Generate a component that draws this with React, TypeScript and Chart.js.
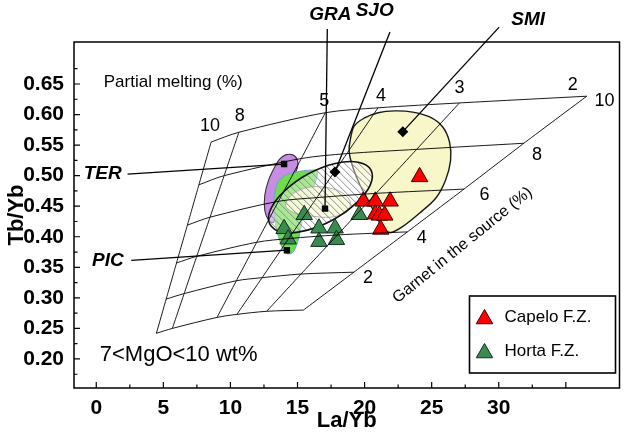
import React, { useEffect, useRef } from "react";
import { Chart, registerables } from "chart.js";

Chart.register(...registerables);

const FONT = "Arial, 'Liberation Sans', Helvetica, sans-serif";

// ---------- axis ticks ----------
const xMajorTicks = [0, 5, 10, 15, 20, 25, 30, 35];
const xTickLabels = ["0", "5", "10", "15", "20", "25", "30", ""];
const xMinorTicks = [2.5, 7.5, 12.5, 17.5, 22.5, 27.5, 32.5];
const yMajorTicks = [0.2, 0.25, 0.3, 0.35, 0.4, 0.45, 0.5, 0.55, 0.6, 0.65];
const yTickLabels = ["0.20", "0.25", "0.30", "0.35", "0.40", "0.45", "0.50", "0.55", "0.60", "0.65"];
const yMinorTicks = [0.175, 0.225, 0.275, 0.325, 0.375, 0.425, 0.475, 0.525, 0.575, 0.625, 0.675];

// ---------- melting model mesh: each curve = one partial-melting %, nodes for garnet 0,2,4,6,8,10 % ----------
const melt10 = [[4.48, 0.242], [5.21, 0.298], [5.98, 0.357], [6.79, 0.419], [7.65, 0.485], [8.56, 0.555]];
const melt8 = [[5.67, 0.25], [6.55, 0.307], [7.49, 0.368], [8.48, 0.432], [9.53, 0.5], [10.63, 0.571]];
const melt5 = [[9.0, 0.268], [10.44, 0.328], [11.96, 0.391], [13.58, 0.458], [15.28, 0.528], [17.07, 0.603]];
const melt4 = [[10.48, 0.273], [12.36, 0.333], [14.34, 0.397], [16.44, 0.464], [18.67, 0.536], [21.0, 0.611]];
const melt3 = [[12.7, 0.278], [15.26, 0.339], [17.98, 0.403], [20.85, 0.471], [23.88, 0.543], [27.07, 0.619]];
const melt2 = [[15.44, 0.28], [19.2, 0.342], [23.19, 0.408], [27.41, 0.478], [31.87, 0.553], [36.56, 0.63]];
const meltCurves = [melt10, melt8, melt5, melt4, melt3, melt2];
const meltLabels = ["10", "8", "5", "4", "3", "2"];
const garnetLabels = ["10", "8", "6", "4", "2"];

// ---------- samples ----------
const capeloLaYb = [24.1, 19.9, 20.8, 21.9, 20.8, 21.1, 21.5, 21.2];
const capeloTbYb = [0.498, 0.458, 0.458, 0.458, 0.437, 0.435, 0.435, 0.412];
const hortaLaYb = [15.5, 14.0, 14.3, 16.6, 17.8, 16.6, 17.9, 19.6];
const hortaTbYb = [0.436, 0.413, 0.396, 0.414, 0.414, 0.392, 0.395, 0.436];

// ---------- end members ----------
const endMemberNames = ["TER", "PIC", "GRA", "SJO", "SMI"];
const endMemberLaYb = [14.0, 14.21, 17.05, 17.79, 22.85];
const endMemberTbYb = [0.519, 0.378, 0.446, 0.506, 0.572];
const leaderLaYb = [2.33, 2.61, 17.22, 21.89, 30.03];
const leaderTbYb = [0.5025, 0.3615, 0.74, 0.735, 0.743];

// ---------- fields ----------
const regionSMI = [[18.93, 0.558], [19.22, 0.581], [19.96, 0.594], [21.0, 0.603], [22.26, 0.606], [23.59, 0.604], [24.85, 0.596], [25.81, 0.58], [26.33, 0.555], [26.41, 0.525], [26.04, 0.493], [25.3, 0.463], [24.11, 0.439], [22.85, 0.417], [21.96, 0.407], [21.37, 0.414], [20.85, 0.435], [20.26, 0.46], [19.67, 0.484], [19.15, 0.512], [18.85, 0.539]];
const regionTER = [[14.11, 0.534], [14.63, 0.534], [15.0, 0.525], [14.93, 0.509], [14.48, 0.493], [13.89, 0.468], [13.52, 0.443], [13.22, 0.424], [12.85, 0.427], [12.56, 0.443], [12.56, 0.468], [12.85, 0.493], [13.3, 0.514], [13.67, 0.527]];
const regionPIC = [[13.44, 0.484], [13.96, 0.499], [14.93, 0.506], [15.96, 0.509], [16.48, 0.506], [16.26, 0.484], [15.81, 0.46], [15.44, 0.435], [15.22, 0.411], [14.93, 0.386], [14.56, 0.373], [14.04, 0.375], [13.67, 0.394], [13.37, 0.419], [13.22, 0.452]];
const regionGRA = [[14.11, 0.452], [14.7, 0.471], [15.81, 0.481], [17.07, 0.481], [18.26, 0.473], [18.93, 0.457], [18.63, 0.44], [17.44, 0.432], [15.96, 0.434], [14.7, 0.44]];
const regionSJO = [[20.48, 0.509], [20.41, 0.484], [19.37, 0.455], [17.59, 0.427], [15.59, 0.41], [13.89, 0.407], [12.93, 0.421], [13.0, 0.445], [14.04, 0.475], [15.81, 0.503], [17.81, 0.52], [19.52, 0.522]];

// ---------- text anchors (data coordinates) ----------
const meltLabelPos = [[8.48, 0.581], [10.7, 0.5975], [17.0, 0.622], [21.22, 0.63], [27.07, 0.6434], [35.52, 0.6484]];
const garnetLabelPos = [[37.89, 0.622], [32.85, 0.5336], [28.93, 0.468], [24.26, 0.3975], [20.26, 0.332]];
const endMemberLabelPos = [[1.89, 0.5025], [2.04, 0.36], [17.45, 0.763], [20.75, 0.769], [32.19, 0.755]];
const endMemberLabelAlign = ["right", "right", "center", "center", "center"];

function smoothClosedPath(ctx: CanvasRenderingContext2D, pts: number[][]) {
  const n = pts.length;
  ctx.beginPath();
  ctx.moveTo(pts[0][0], pts[0][1]);
  for (let i = 0; i < n; i++) {
    const p0 = pts[(i - 1 + n) % n], p1 = pts[i], p2 = pts[(i + 1) % n], p3 = pts[(i + 2) % n];
    ctx.bezierCurveTo(
      p1[0] + (p2[0] - p0[0]) / 6, p1[1] + (p2[1] - p0[1]) / 6,
      p2[0] - (p3[0] - p1[0]) / 6, p2[1] - (p3[1] - p1[1]) / 6,
      p2[0], p2[1]
    );
  }
  ctx.closePath();
}

function toPx(chart: any, p: number[]) {
  return [chart.scales.x.getPixelForValue(p[0]), chart.scales.y.getPixelForValue(p[1])];
}

const regionsPlugin = {
  id: "regions",
  beforeDatasetsDraw(chart: any) {
    const ctx = chart.ctx as CanvasRenderingContext2D;
    const fillRegion = (data: number[][], fill: string, stroke: string, lw: number) => {
      const pts = data.map((p) => toPx(chart, p));
      ctx.save();
      smoothClosedPath(ctx, pts);
      ctx.fillStyle = fill;
      ctx.fill();
      if (lw > 0) {
        ctx.strokeStyle = stroke;
        ctx.lineWidth = lw;
        ctx.stroke();
      }
      ctx.restore();
      return pts;
    };
    fillRegion(regionSMI, "#f7f7c9", "#1a1a1a", 1.4);
    fillRegion(regionTER, "#c78de2", "#3a2a40", 1.1);
    fillRegion(regionPIC, "#6edc4c", "#6f9fd6", 1);
    fillRegion(regionGRA, "rgba(244,246,196,0.9)", "#777", 1);
    // hatched SJO field
    const pts = regionSJO.map((p) => toPx(chart, p));
    ctx.save();
    smoothClosedPath(ctx, pts);
    ctx.fillStyle = "rgba(255,255,255,0.4)";
    ctx.fill();
    ctx.clip();
    const xs = pts.map((p) => p[0]);
    const ys = pts.map((p) => p[1]);
    const minX = Math.min(...xs) - 5, maxX = Math.max(...xs) + 5;
    const minY = Math.min(...ys) - 5, maxY = Math.max(...ys) + 5;
    const h = maxY - minY;
    ctx.beginPath();
    for (let k = minX - h; k < maxX; k += 7) {
      ctx.moveTo(k, minY);
      ctx.lineTo(k + h, maxY);
    }
    ctx.strokeStyle = "#8c8c8c";
    ctx.lineWidth = 1;
    ctx.stroke();
    ctx.restore();
    ctx.save();
    smoothClosedPath(ctx, pts);
    ctx.strokeStyle = "#111";
    ctx.lineWidth = 1.6;
    ctx.stroke();
    ctx.restore();
  },
};

function drawTriangle(ctx: CanvasRenderingContext2D, x: number, y: number, r: number, fill: string, stroke: string) {
  ctx.beginPath();
  ctx.moveTo(x, y - r);
  ctx.lineTo(x + Math.sin((2 * Math.PI) / 3) * r, y + r / 2);
  ctx.lineTo(x - Math.sin((2 * Math.PI) / 3) * r, y + r / 2);
  ctx.closePath();
  ctx.fillStyle = fill;
  ctx.fill();
  ctx.strokeStyle = stroke;
  ctx.lineWidth = 1;
  ctx.stroke();
}

const overlayPlugin = {
  id: "overlay",
  afterDraw(chart: any) {
    const ctx = chart.ctx as CanvasRenderingContext2D;
    const ca = chart.chartArea;
    const xs = chart.scales.x, ys = chart.scales.y;
    ctx.save();
    // frame
    ctx.strokeStyle = "#000";
    ctx.lineWidth = 1.5;
    ctx.strokeRect(ca.left, ca.top, ca.right - ca.left, ca.bottom - ca.top);
    // inward ticks
    ctx.lineWidth = 1.2;
    ctx.beginPath();
    xMajorTicks.forEach((v) => { const p = xs.getPixelForValue(v); ctx.moveTo(p, ca.bottom); ctx.lineTo(p, ca.bottom - 6); });
    xMinorTicks.forEach((v) => { const p = xs.getPixelForValue(v); ctx.moveTo(p, ca.bottom); ctx.lineTo(p, ca.bottom - 3.5); });
    yMajorTicks.forEach((v) => { const p = ys.getPixelForValue(v); ctx.moveTo(ca.left, p); ctx.lineTo(ca.left + 6, p); });
    yMinorTicks.forEach((v) => { const p = ys.getPixelForValue(v); ctx.moveTo(ca.left, p); ctx.lineTo(ca.left + 3.5, p); });
    ctx.stroke();

    ctx.fillStyle = "#000";
    ctx.textBaseline = "middle";
    const text = (s: string, p: number[], font: string, align: CanvasTextAlign) => {
      const [px, py] = toPx(chart, p);
      ctx.font = font;
      ctx.textAlign = align;
      ctx.fillText(s, px, py);
    };
    text("Partial melting (%)", [0.56, 0.6533], `17px ${FONT}`, "left");
    meltLabels.forEach((s, i) => text(s, meltLabelPos[i], `18px ${FONT}`, "center"));
    garnetLabels.forEach((s, i) => text(s, garnetLabelPos[i], `18px ${FONT}`, "center"));
    endMemberNames.forEach((s, i) => text(s, endMemberLabelPos[i], `italic bold 19px ${FONT}`, endMemberLabelAlign[i] as CanvasTextAlign));
    text("7<MgO<10 wt%", [0.26, 0.2074], `22px ${FONT}`, "left");
    // rotated garnet title
    {
      const [px, py] = toPx(chart, [27.3, 0.386]);
      ctx.save();
      ctx.translate(px, py);
      ctx.rotate((-39 * Math.PI) / 180);
      ctx.font = `16px ${FONT}`;
      ctx.textAlign = "center";
      ctx.fillText("Garnet in the source (%)", 0, 0);
      ctx.restore();
    }
    // legend
    const lx = ca.right - 150, ly = ca.bottom - 92, lw = 146, lh = 77;
    ctx.strokeStyle = "#000";
    ctx.lineWidth = 1.6;
    ctx.strokeRect(lx, ly, lw, lh);
    drawTriangle(ctx, lx + 15, ly + 23, 9.5, "#ff0000", "#400000");
    drawTriangle(ctx, lx + 15, ly + 57, 9.5, "#3a8b50", "#14301c");
    ctx.fillStyle = "#000";
    ctx.font = `17px ${FONT}`;
    ctx.textAlign = "left";
    ctx.fillText("Capelo F.Z.", lx + 35, ly + 21);
    ctx.fillText("Horta F.Z.", lx + 35, ly + 55);
    ctx.restore();
  },
};

export default function App() {
  const ref = useRef<HTMLCanvasElement | null>(null);
  useEffect(() => {
    if (!ref.current) return;
    const meshColor = "#000";
    const datasets: any[] = [];
    meltCurves.forEach((c) =>
      datasets.push({
        data: c.map(([x, y]) => ({ x, y })),
        showLine: true, pointRadius: 0, borderColor: meshColor, borderWidth: 0.9, tension: 0.1, fill: false,
      })
    );
    for (let g = 0; g < 6; g++) {
      datasets.push({
        data: meltCurves.map((c) => ({ x: c[g][0], y: c[g][1] })),
        showLine: true, pointRadius: 0, borderColor: meshColor, borderWidth: 0.9, tension: 0.3, fill: false,
      });
    }
    endMemberNames.forEach((_, i) =>
      datasets.push({
        data: [{ x: leaderLaYb[i], y: leaderTbYb[i] }, { x: endMemberLaYb[i], y: endMemberTbYb[i] }],
        showLine: true, pointRadius: 0, borderColor: "#000", borderWidth: 1.3, clip: false, fill: false,
      })
    );
    datasets.push({
      data: endMemberLaYb.map((x, i) => ({ x, y: endMemberTbYb[i] })),
      showLine: false, pointStyle: ["rect", "rect", "rect", "rectRot", "rectRot"], pointRadius: [4.5, 4.5, 4.5, 5.5, 5.5],
      backgroundColor: "#000", borderColor: "#000", borderWidth: 0,
    });
    datasets.push({
      label: "Capelo F.Z.",
      data: capeloLaYb.map((x, i) => ({ x, y: capeloTbYb[i] })),
      showLine: false, pointStyle: "triangle", pointRadius: 9.5, backgroundColor: "#ff0000", borderColor: "#400000", borderWidth: 1,
    });
    datasets.push({
      label: "Horta F.Z.",
      data: hortaLaYb.map((x, i) => ({ x, y: hortaTbYb[i] })),
      showLine: false, pointStyle: "triangle", pointRadius: 9.5, backgroundColor: "#3a8b50", borderColor: "#14301c", borderWidth: 1,
    });

    const chart = new Chart(ref.current, {
      type: "scatter",
      data: { datasets },
      plugins: [regionsPlugin, overlayPlugin],
      options: {
        animation: false,
        responsive: false,
        maintainAspectRatio: false,
        events: [],
        layout: { padding: { top: 42, right: 6, left: 0, bottom: 0 } },
        plugins: { legend: { display: false }, tooltip: { enabled: false } },
        scales: {
          x: {
            type: "linear", min: -1.66, max: 39.0,
            afterBuildTicks: (a: any) => { a.ticks = xMajorTicks.map((v) => ({ value: v })); },
            afterFit: (a: any) => { a.height = 48; },
            grid: { display: false, drawTicks: false },
            border: { display: false },
            ticks: {
              color: "#000", padding: 8, maxRotation: 0, autoSkip: false,
              font: { family: FONT, size: 21, weight: "bold" },
              callback: (v: any) => xTickLabels[xMajorTicks.indexOf(Number(v))] ?? "",
            },
            title: { display: true, text: "La/Yb", color: "#000", font: { family: FONT, size: 22, weight: "bold" }, padding: { top: 0, bottom: 2 } },
          },
          y: {
            type: "linear", min: 0.1525, max: 0.7187,
            afterBuildTicks: (a: any) => { a.ticks = yMajorTicks.map((v) => ({ value: v })); },
            afterFit: (a: any) => { a.width = 74; },
            grid: { display: false, drawTicks: false },
            border: { display: false },
            ticks: {
              color: "#000", padding: 10, autoSkip: false,
              font: { family: FONT, size: 21, weight: "bold" },
              callback: (v: any) => { const i = yMajorTicks.findIndex((t) => Math.abs(t - Number(v)) < 1e-6); return i >= 0 ? yTickLabels[i] : ""; },
            },
            title: { display: true, text: "Tb/Yb", color: "#000", font: { family: FONT, size: 22, weight: "bold" }, padding: { top: 4, bottom: 0 } },
          },
        },
      } as any,
    });
    return () => chart.destroy();
  }, []);
  return (
    <div style={{ position: "absolute", left: 0, top: 0, width: 630, height: 436, background: "#fff" }}>
      <canvas ref={ref} width={630} height={436} style={{ display: "block" }} />
    </div>
  );
}
